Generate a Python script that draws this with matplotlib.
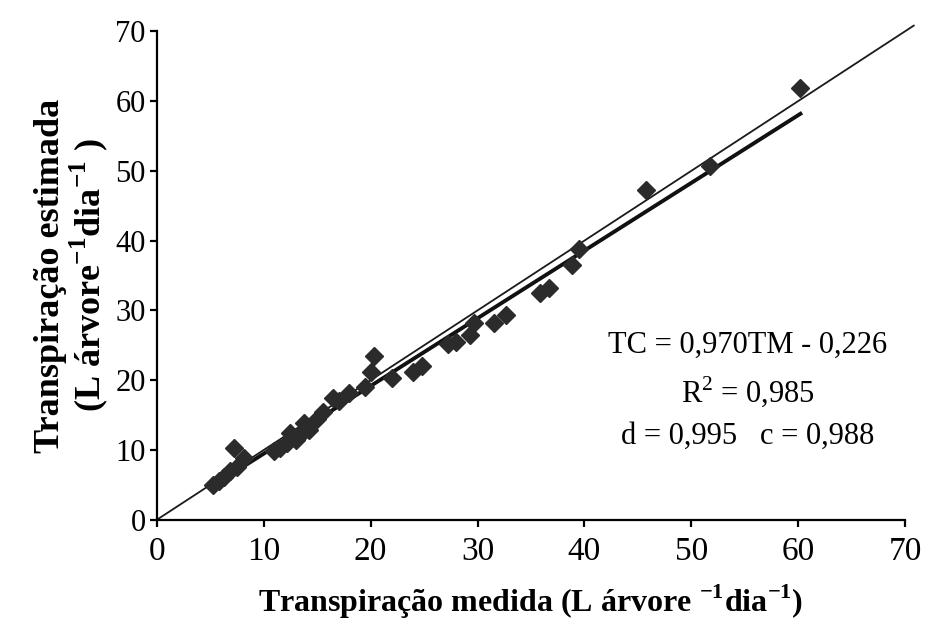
import numpy as np
import matplotlib
matplotlib.use("Agg")
from matplotlib import pyplot as plt

plt.rcParams['font.family'] = ['Liberation Serif', 'DejaVu Serif']
plt.rcParams['mathtext.fontset'] = 'custom'
plt.rcParams['mathtext.rm'] = 'Liberation Serif'
plt.rcParams['mathtext.bf'] = 'Liberation Serif:bold'

# transpiracao medida (TM) x estimada (TC), L arvore-1 dia-1
tm = [5.3, 5.8, 6.3, 6.8, 7.2, 7.5, 8.2, 11.0, 11.5, 12.2, 12.5, 13.0, 13.5, 13.8,
      14.2, 15.0, 15.5, 16.5, 17.0, 18.0, 19.5, 20.0, 20.3, 22.0, 24.0, 24.8,
      27.2, 28.0, 29.3, 29.7, 31.5, 32.7, 35.8, 36.7, 38.8, 39.5, 45.8, 51.7, 60.2]
tc = [5.0, 5.5, 6.2, 7.0, 10.3, 7.5, 8.8, 9.8, 10.3, 11.0, 12.5, 11.5, 12.3, 13.8,
      12.8, 14.5, 15.5, 17.5, 17.0, 18.2, 19.0, 21.2, 23.4, 20.3, 21.2, 22.0,
      25.2, 25.5, 26.5, 28.2, 28.2, 29.4, 32.5, 33.2, 36.5, 38.8, 47.3, 50.7, 61.8]

coef_a = 0.970
coef_b = -0.226
ticks = [0, 10, 20, 30, 40, 50, 60, 70]

fig = plt.figure(figsize=(9.39, 6.24), dpi=100)
ax = fig.add_axes([0.167, 0.167, 0.797, 0.783])

# linha 1:1
ax.plot([0, 70.8], [0, 70.8], color='#1a1a1a', lw=1.3, clip_on=False, zorder=2)
# reta ajustada
xr = np.array([5.3, 60.2])
ax.plot(xr, coef_a * xr + coef_b, color='#111111', lw=2.8, zorder=3)
ax.plot(tm, tc, 'D', color='#2b2b2b', ms=9.5, zorder=4, clip_on=False)

ax.set_xlim(0, 70)
ax.set_ylim(0, 70)
ax.set_xticks(ticks)
ax.set_yticks(ticks)
ax.spines['top'].set_visible(False)
ax.spines['right'].set_visible(False)
for s in ['left', 'bottom']:
    ax.spines[s].set_linewidth(1.6)
ax.tick_params(direction='out', length=5, width=1.6, labelsize=22, pad=3)
ax.tick_params(axis='x', labelsize=24, pad=7)

ax.set_xlabel('Transpiração medida (L árvore $^{\\mathbf{-1}}$dia$^{\\mathbf{-1}}$)',
              fontsize=23, fontweight='bold', labelpad=11)
ax.set_ylabel('Transpiração estimada\n(L árvore$^{\\mathbf{-1}}$dia$^{\\mathbf{-1}}$ )',
              fontsize=26, fontweight='bold', labelpad=4, linespacing=1.0)

ax.text(0.79, 0.358, 'TC = 0,970TM - 0,226', transform=ax.transAxes,
        ha='center', va='center', fontsize=22)
ax.text(0.79, 0.262, 'R$^{2}$ = 0,985', transform=ax.transAxes,
        ha='center', va='center', fontsize=22)
ax.text(0.79, 0.17, 'd = 0,995   c = 0,988', transform=ax.transAxes,
        ha='center', va='center', fontsize=22)

fig.savefig('out.png', dpi=100)
